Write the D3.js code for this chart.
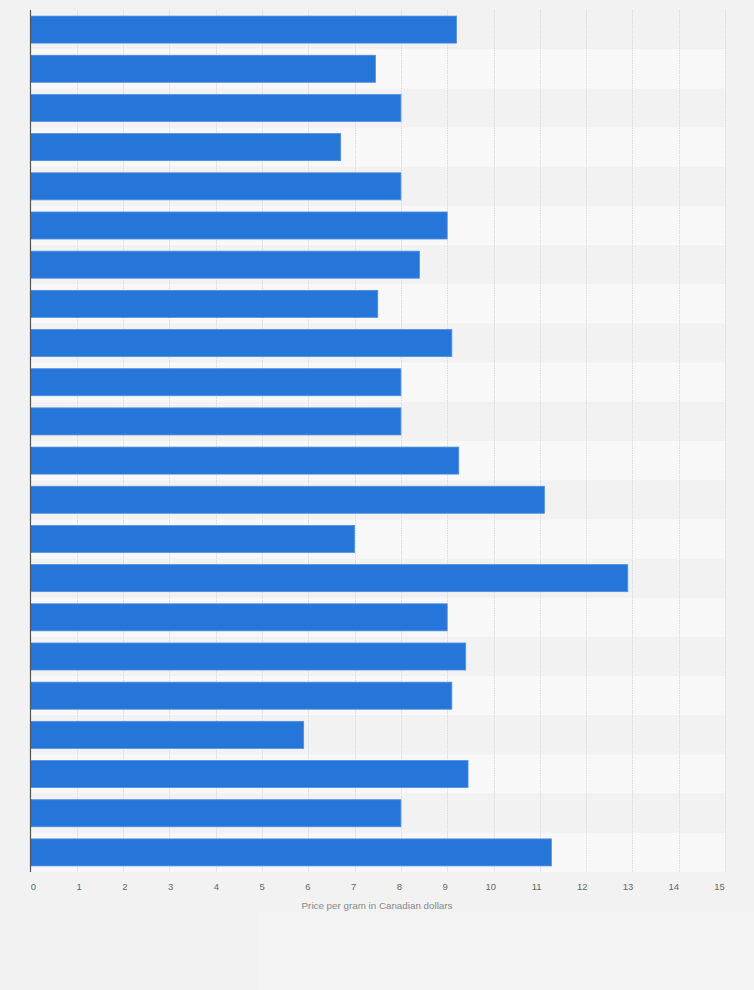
<!DOCTYPE html>
<html>
<head>
<meta charset="utf-8">
<script src="https://cdn.jsdelivr.net/npm/d3@7"></script>
<style>
  html, body { margin: 0; padding: 0; background: #f2f2f2; }
  svg { display: block; font-family: 'Liberation Sans', Arial, sans-serif; }
</style>
</head>
<body>
<svg id="chart" width="754" height="990"></svg>
<script>
// category labels are not shown in the picture, rows kept in order
const categories = d3.range(1, 23).map(d => 'Row ' + d);
const prices = [9.2, 7.45, 8, 6.7, 8, 9, 8.4, 7.5, 9.1, 8, 8, 9.25, 11.1, 7, 12.9, 9, 9.4, 9.1, 5.9, 9.45, 8, 11.25];
const xTicks = d3.range(0, 16);
const axisTitle = 'Price per gram in Canadian dollars';

const width = 754;
const height = 990;
const margin = { top: 10, right: 29, bottom: 118, left: 30 };

const svg = d3.select('#chart');

// bottom strip, faint panel on the left
svg.append('rect').attr('x', 0).attr('y', 0).attr('width', width).attr('height', height).attr('fill', '#f2f2f2');
svg.append('rect').attr('x', 257).attr('y', 912).attr('width', width - 257).attr('height', height - 912).attr('fill', '#f4f4f4');

const xScale = d3
	.scaleLinear()
	.domain([0, 15])
	.range([margin.left + 0.5, width - margin.right]);
const yScale = d3
	.scaleBand()
	.domain(categories)
	.range([margin.top, height - margin.bottom])
	.paddingInner(0.31)
	.paddingOuter(0.155);

const step = yScale.step();
const g = svg.append('g');

// alternating row bands
g.selectAll('.band')
	.data(categories.filter((d, i) => i % 2 === 1))
	.enter()
	.append('rect')
	.attr('class', 'band')
	.attr('x', xScale(0))
	.attr('y', d => yScale(d) - step * yScale.paddingInner() / 2)
	.attr('width', xScale(15) - xScale(0))
	.attr('height', step)
	.attr('fill', '#f8f8f8');

// grid
g.selectAll('.grid')
	.data(xTicks.slice(1))
	.enter()
	.append('line')
	.attr('class', 'grid')
	.attr('x1', d => Math.round(xScale(d)) + 0.5)
	.attr('x2', d => Math.round(xScale(d)) + 0.5)
	.attr('y1', margin.top)
	.attr('y2', height - margin.bottom)
	.attr('stroke', '#dcdcdc')
	.attr('stroke-dasharray', '1.5,1');

// bars
g.selectAll('.bar')
	.data(prices.map((v, i) => ({ cat: categories[i], value: v })))
	.enter()
	.append('rect')
	.attr('class', 'bar')
	.attr('x', xScale(0))
	.attr('y', d => yScale(d.cat))
	.attr('width', d => xScale(d.value) - xScale(0))
	.attr('height', yScale.bandwidth())
	.attr('fill', '#2676da')
	.attr('stroke', '#4f8fe2')
	.attr('stroke-width', 0.8);

// left axis line
g.append('line')
	.attr('x1', xScale(0))
	.attr('x2', xScale(0))
	.attr('y1', margin.top)
	.attr('y2', height - margin.bottom)
	.attr('stroke', '#555')
	.attr('stroke-width', 1.2);

// tick labels sit slightly inside the plot edges
const labelScale = d3.scaleLinear().domain([0, 15]).range([33, 719]);
const xAxis = d3.axisBottom(labelScale).tickValues(xTicks).tickSize(0).tickPadding(0);
const axisG = g
	.append('g')
	.attr('transform', `translate(0,${height - margin.bottom + 11})`)
	.call(xAxis);
axisG.select('.domain').remove();
axisG
	.selectAll('text')
	.attr('fill', '#666')
	.style('font-size', '9.5px');

g.append('text')
	.attr('x', 377)
	.attr('y', 909)
	.attr('text-anchor', 'middle')
	.attr('fill', '#888')
	.style('font-size', '9.8px')
	.text(axisTitle);
</script>
</body>
</html>
